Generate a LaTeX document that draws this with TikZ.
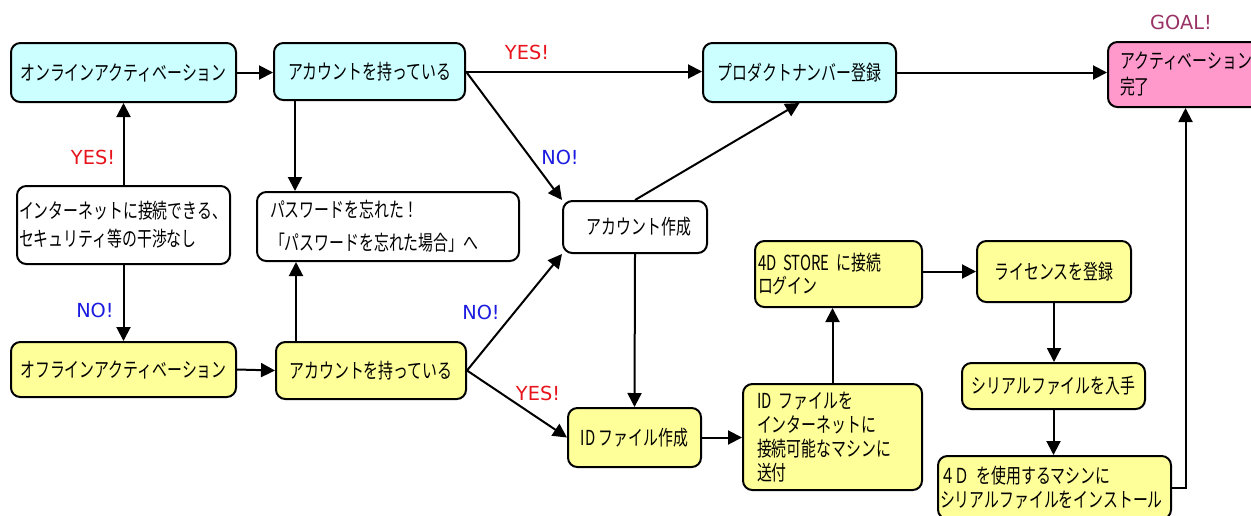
\documentclass[tikz,border=0pt]{standalone}
\usepackage{fontspec}
\setmainfont{Noto Sans CJK JP}[FakeStretch=0.72]
\newfontfamily\lbl{DejaVu Sans}
\usetikzlibrary{arrows.meta,calc}
\definecolor{cyanf}{HTML}{CCFFFF}
\definecolor{yelf}{HTML}{FFFF99}
\definecolor{pinkf}{HTML}{FF99CC}
\definecolor{yesc}{HTML}{E8141C}
\definecolor{noc}{HTML}{1C1CE0}
\definecolor{goalc}{HTML}{993366}
\tikzset{
  bx/.style={draw, line width=1.5pt, rounded corners=7pt, inner sep=0pt,
    font=\fontsize{15.5pt}{18pt}\selectfont},
  arr/.style={line width=1.5pt, -{Triangle[length=10.5pt,width=10.5pt]}},
  yeslbl/.style={text=yesc, inner sep=0pt, font=\lbl\fontsize{14.5pt}{16pt}\selectfont},
  nolbl/.style={text=noc, inner sep=0pt, font=\lbl\fontsize{14.5pt}{16pt}\selectfont},
  goallbl/.style={text=goalc, inner sep=0pt, font=\lbl\fontsize{14.5pt}{16pt}\selectfont},
}
\begin{document}
\begin{tikzpicture}[x=0.75pt,y=-0.75pt]
\useasboundingbox[fill=white] (0,0) rectangle (1251,515);

% nodes
\node[bx, minimum width=168.75pt, minimum height=44.25pt, fill=cyanf] (on) at (123.5,72.5) {オンラインアクティベーション};
\node[bx, minimum width=143.25pt, minimum height=42.75pt, fill=cyanf] (hasT) at (369.5,71.5) {アカウントを持っている};
\node[bx, minimum width=144.75pt, minimum height=44.25pt, fill=cyanf] (prod) at (799.5,72.5) {プロダクトナンバー登録};
\node[bx, minimum width=116.25pt, minimum height=48.75pt, fill=pinkf, text width=98.25pt, align=left] (done) at (1185.5,74.5) {アクティベーション\\[1.5pt]完了};
\node[goallbl] (goal) at (1181,22) {GOAL!};

\node[bx, minimum width=159.75pt, minimum height=58.5pt, fill=white, text width=156.75pt, align=left] (inet) at (123.5,225) {インターネットに接続できる、\\[3pt]セキュリティ等の干渉なし};
\node[bx, minimum width=196.5pt, minimum height=51.75pt, fill=white, text width=177pt, align=left] (pw) at (388,226.5) {パスワードを忘れた！\\[6.75pt]「パスワードを忘れた場合」へ};
\node[bx, minimum width=108pt, minimum height=39pt, fill=white] (mk) at (635,227) {\hspace{6pt}アカウント作成};

\node[bx, minimum width=168.75pt, minimum height=41.25pt, fill=yelf] (off) at (123.5,369.5) {オフラインアクティベーション};
\node[bx, minimum width=142.5pt, minimum height=42.75pt, fill=yelf] (hasB) at (371,370.5) {アカウントを持っている};
\node[bx, minimum width=99.75pt, minimum height=44.25pt, fill=yelf] (idf) at (634.5,437.5) {ID ファイル作成};
\node[bx, minimum width=134.25pt, minimum height=79.5pt, fill=yelf, text width=113.25pt, align=left] (send) at (832.5,437) {ID ファイルを\\インターネットに\\接続可能なマシンに\\送付};
\node[bx, minimum width=125.25pt, minimum height=49.5pt, fill=yelf, text width=120.75pt, align=left] (store) at (838.5,274) {4D~STORE~に接続\\[-0.75pt]ログイン};
\node[bx, minimum width=115.5pt, minimum height=45.75pt, fill=yelf] (lic) at (1054,271.5) {ライセンスを登録};
\node[bx, minimum width=137.25pt, minimum height=34.5pt, fill=yelf] (ser) at (1053.5,386) {シリアルファイルを入手};
\node[bx, minimum width=174.75pt, minimum height=47.25pt, fill=yelf, text width=171.75pt, align=left] (inst) at (1054.5,487.5) {４Ｄ を使用するマシンに\\シリアルファイルをインストール};

% helper coordinates
\coordinate (p1) at ([xshift=16.5pt]hasT.south west);
\coordinate (p2) at ([xshift=15.75pt]hasB.north west);

% connectors
\draw[arr] (on.east) -- (on.east -| hasT.west);
\draw[arr] (hasT.east) -- (hasT.east -| prod.west);
\draw[arr] (hasT.east) -- (mk.north west);
\draw[arr] (p1) -- (p1 |- pw.north);
\draw[arr] (mk.north) -- (prod.south);
\draw[arr] (prod.east) -- (prod.east -| done.west);
\draw[arr] (inet.north) -- (on.south);
\draw[arr] (inet.south) -- (off.north);
\draw[arr] (off.east) -- (hasB.west);
\draw[arr] (p2) -- (p2 |- pw.south);
\draw[arr] (hasB.east) -- (mk.south west);
\draw[arr] (hasB.east) -- (idf.west);
\draw[arr] (mk.south) -- (idf.north);
\draw[arr] (idf.east) -- (idf.east -| send.west);
\draw[arr] (send.north) -- (send.north |- store.south);
\draw[arr] (store.east |- lic.west) -- (lic.west);
\draw[arr] (lic.south) -- (lic.south |- ser.north);
\draw[arr] (ser.south) -- (ser.south |- inst.north);
\draw[arr] (inst.east) -| (done.south);

% labels
\node[yeslbl] (l1) at (527,52) {YES!};
\node[nolbl] (l2) at (560,157) {NO!};
\node[yeslbl] (l3) at (93,157) {YES!};
\node[nolbl] (l4) at (95,310) {NO!};
\node[nolbl] (l5) at (481,312) {NO!};
\node[yeslbl] (l6) at (538,393) {YES!};
\end{tikzpicture}
\end{document}
